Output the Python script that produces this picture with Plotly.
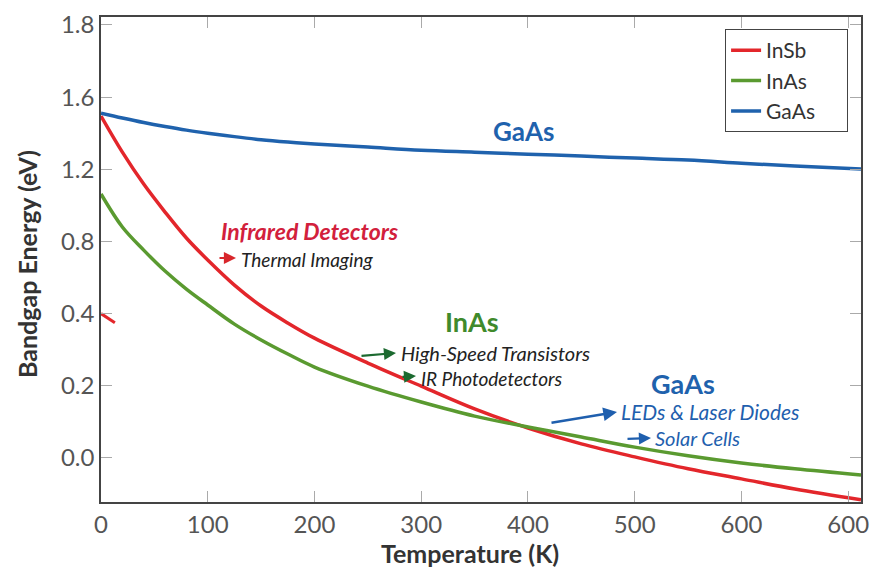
import numpy as np
import plotly.graph_objects as go

# ---------------- data ----------------
temperature = [0, 20, 40, 60, 80, 100, 125, 150, 175, 200, 250, 300, 350, 400,
               450, 500, 550, 600, 650, 712]
insb_eV = [1.495, 1.295, 1.118, 0.963, 0.819, 0.697, 0.558, 0.442, 0.374, 0.332,
           0.263, 0.199, 0.136, 0.083, 0.039, 0.003, -0.030, -0.058, -0.086, -0.116]
inas_eV = [1.063, 0.880, 0.752, 0.636, 0.536, 0.448, 0.371, 0.327, 0.288, 0.252,
           0.199, 0.155, 0.116, 0.086, 0.058, 0.030, 0.006, -0.014, -0.030, -0.047]
gaas_eV = [1.511, 1.484, 1.459, 1.437, 1.417, 1.400, 1.381, 1.364, 1.351, 1.340,
           1.323, 1.306, 1.295, 1.284, 1.273, 1.262, 1.251, 1.234, 1.218, 1.201]
insb_stub_T = [0, 13]
insb_stub_eV = [0.400, 0.375]

x_tickvals = [0, 100, 200, 300, 400, 500, 600, 700]
x_ticktext = ["0", "100", "200", "300", "400", "500", "600", "600"]
y_ticklabels = [0.0, 0.2, 0.4, 0.8, 1.2, 1.6, 1.8]
y_ticktext = ["0.0", "0.2", "0.4", "0.8", "1.2", "1.6", "1.8"]

series_names = ["InSb", "InAs", "GaAs"]
colors = {"InSb": "#e3262b", "InAs": "#5a9a30", "GaAs": "#1f62ad"}

# ---- axis scale: tick labels are evenly spaced but non-uniform in value ----
y_positions = list(range(len(y_ticklabels)))


def to_axis(vals):
    vals = np.asarray(vals, dtype=float)
    out = np.interp(vals, y_ticklabels, y_positions)
    step_lo = (y_positions[1] - y_positions[0]) / (y_ticklabels[1] - y_ticklabels[0])
    out = np.where(vals < y_ticklabels[0], y_positions[0] + (vals - y_ticklabels[0]) * step_lo, out)
    return out


FONT = "Lato, 'Open Sans', sans-serif"

fig = go.Figure()
for name, vals in zip(series_names, [insb_eV, inas_eV, gaas_eV]):
    fig.add_trace(go.Scatter(
        x=temperature, y=to_axis(vals), mode="lines",
        name=name + "\u00a0\u00a0\u00a0\u00a0\u00a0",
        line=dict(color=colors[name], width=3.5, shape="spline", smoothing=1.0),
    ))
fig.add_trace(go.Scatter(
    x=insb_stub_T, y=to_axis(insb_stub_eV), mode="lines", showlegend=False,
    line=dict(color=colors["InSb"], width=3),
))

# ---------------- layout ----------------
W, H = 870, 573
L, R, T, B = 101, 861, 17, 502          # plot area in window pixels


def P(px, py):
    return (px - L) / (R - L), (B - py) / (B - T)


annotations = []


def text(px, py, s, size, color, anchor="left", angle=0):
    x, y = P(px, py)
    annotations.append(dict(x=x, y=y, xref="paper", yref="paper", text=s, textangle=angle,
                            showarrow=False, xanchor=anchor, yanchor="middle",
                            font=dict(family=FONT, size=size, color=color)))


def arrow(hx, hy, tx, ty, color, width=2.2):
    x, y = P(hx, hy)
    annotations.append(dict(x=x, y=y, xref="paper", yref="paper", text="",
                            showarrow=True, ax=tx - hx, ay=ty - hy,
                            arrowhead=2, arrowsize=1.1, arrowwidth=width,
                            arrowcolor=color, standoff=0, startstandoff=0))


text(524, 131, "<b>GaAs</b>", 26, "#1f62ad", "center")
text(219, 231, "<b><i>Infrared Detectors</i></b>", 23, "#d2203c")
arrow(236, 258, 218, 258, "#d8262b")
text(239, 259, "<i>Thermal Imaging</i>", 19, "#222222")
text(472, 321, "<b>InAs</b>", 27, "#3f8a2c", "center")
arrow(396, 353, 360, 356, "#1c6a30")
text(399, 353, "<i>High-Speed Transistors</i>", 20, "#222222")
arrow(416, 376, 401, 377, "#1c6a30")
text(419, 378, "<i>IR Photodetectors</i>", 19, "#222222")
text(683, 383, "<b>GaAs</b>", 27, "#1f62ad", "center")
arrow(617, 412, 550, 423, "#1f5fae", 2.5)
text(619, 411, "<i>LEDs &amp; Laser Diodes</i>", 21, "#1f5fae")
arrow(651, 438, 626, 439, "#1f5fae")
text(653, 438, "<i>Solar Cells</i>", 20, "#1f5fae")

# axis titles
text(470, 553, "<b>Temperature (K)</b>", 25, "#333333", "center")
text(27, 264, "<b>Bandgap Energy (eV)</b>", 25, "#333333", "center", angle=-90)

axis_common = dict(
    showline=True, linecolor="#444444", linewidth=1.5, mirror="allticks",
    ticks="inside", ticklen=11, tickwidth=1, tickcolor="#aaaaaa",
    showgrid=False, zeroline=False,
    tickfont=dict(family=FONT, size=24, color="#555555"),
)

fig.update_layout(
    width=W, height=H,
    margin=dict(l=L, r=W - R, t=T, b=H - B, autoexpand=False),
    paper_bgcolor="white", plot_bgcolor="white",
    font=dict(family=FONT),
    xaxis=dict(range=[0, 712], tickvals=x_tickvals, ticktext=x_ticktext, **axis_common),
    yaxis=dict(range=[-0.61, 6.11], tickvals=y_positions, ticktext=y_ticktext, **axis_common),
    legend=dict(x=0.983, y=0.975, xanchor="right", yanchor="top",
                bgcolor="white", bordercolor="#444444", borderwidth=1,
                font=dict(family=FONT, size=21, color="#333333"),
                tracegroupgap=0, itemwidth=30),
    annotations=annotations,
    showlegend=True,
)

# remove the default page margin so the 870x573 figure fills the window exactly
fig.write_html("out.html",
               config={"displayModeBar": False},
               post_script="document.body.style.margin='0';document.body.style.overflow='hidden';")
